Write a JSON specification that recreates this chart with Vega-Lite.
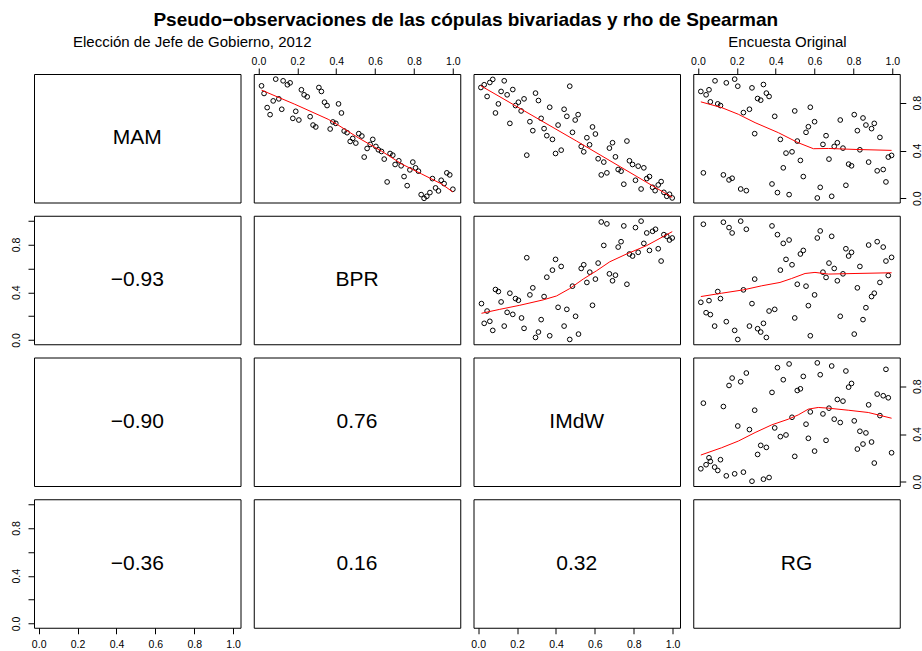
{
"$schema": "https://vega.github.io/schema/vega-lite/v6.json",
"padding": {"left": 10, "top": 10, "right": 0, "bottom": 0},
"autosize": {"type": "pad"},
"background": "white",
"config": {
 "view": {"stroke": "black", "strokeWidth": 1},
 "axis": {"domain": false, "grid": false, "ticks": true, "tickSize": 6, "tickColor": "black", "tickWidth": 1, "labelColor": "black", "labelFont": "Liberation Sans", "labelFontSize": 10.5, "labelFlush": false, "labelOverlap": false, "labelBound": false},
 "text": {"font": "Liberation Sans"}
},
"datasets": {
 "pts": [
  {"p":"12","x":0.016,"y":0.941},{"p":"12","x":0.029,"y":0.877},{"p":"12","x":0.089,"y":0.997},{"p":"12","x":0.127,"y":0.983},{"p":"12","x":0.149,"y":0.950},{"p":"12","x":0.163,"y":0.966},{"p":"12","x":0.045,"y":0.759},{"p":"12","x":0.060,"y":0.700},{"p":"12","x":0.076,"y":0.815},{"p":"12","x":0.105,"y":0.832},{"p":"12","x":0.120,"y":0.745},{"p":"12","x":0.177,"y":0.669},{"p":"12","x":0.192,"y":0.728},{"p":"12","x":0.208,"y":0.655},{"p":"12","x":0.221,"y":0.908},{"p":"12","x":0.235,"y":0.866},{"p":"12","x":0.251,"y":0.849},{"p":"12","x":0.266,"y":0.683},{"p":"12","x":0.281,"y":0.613},{"p":"12","x":0.295,"y":0.597},{"p":"12","x":0.311,"y":0.927},{"p":"12","x":0.324,"y":0.894},{"p":"12","x":0.340,"y":0.804},{"p":"12","x":0.353,"y":0.776},{"p":"12","x":0.369,"y":0.580},{"p":"12","x":0.383,"y":0.639},{"p":"12","x":0.398,"y":0.627},{"p":"12","x":0.412,"y":0.790},{"p":"12","x":0.427,"y":0.714},{"p":"12","x":0.441,"y":0.563},{"p":"12","x":0.456,"y":0.549},{"p":"12","x":0.472,"y":0.476},{"p":"12","x":0.485,"y":0.501},{"p":"12","x":0.501,"y":0.462},{"p":"12","x":0.516,"y":0.541},{"p":"12","x":0.532,"y":0.521},{"p":"12","x":0.544,"y":0.345},{"p":"12","x":0.559,"y":0.417},{"p":"12","x":0.575,"y":0.451},{"p":"12","x":0.588,"y":0.493},{"p":"12","x":0.604,"y":0.434},{"p":"12","x":0.617,"y":0.406},{"p":"12","x":0.633,"y":0.392},{"p":"12","x":0.647,"y":0.328},{"p":"12","x":0.662,"y":0.137},{"p":"12","x":0.677,"y":0.375},{"p":"12","x":0.691,"y":0.361},{"p":"12","x":0.703,"y":0.283},{"p":"12","x":0.722,"y":0.314},{"p":"12","x":0.734,"y":0.272},{"p":"12","x":0.749,"y":0.182},{"p":"12","x":0.765,"y":0.106},{"p":"12","x":0.779,"y":0.238},{"p":"12","x":0.794,"y":0.303},{"p":"12","x":0.808,"y":0.255},{"p":"12","x":0.823,"y":0.227},{"p":"12","x":0.837,"y":0.031},{"p":"12","x":0.852,"y":0.000},{"p":"12","x":0.866,"y":0.017},{"p":"12","x":0.882,"y":0.048},{"p":"12","x":0.895,"y":0.165},{"p":"12","x":0.911,"y":0.087},{"p":"12","x":0.926,"y":0.062},{"p":"12","x":0.940,"y":0.151},{"p":"12","x":0.955,"y":0.123},{"p":"12","x":0.969,"y":0.213},{"p":"12","x":0.984,"y":0.196},{"p":"12","x":1.000,"y":0.076},
  {"p":"13","x":0.014,"y":0.927},{"p":"13","x":0.031,"y":0.950},{"p":"13","x":0.046,"y":0.852},{"p":"13","x":0.060,"y":0.969},{"p":"13","x":0.075,"y":0.995},{"p":"13","x":0.089,"y":0.714},{"p":"13","x":0.104,"y":0.790},{"p":"13","x":0.118,"y":0.894},{"p":"13","x":0.134,"y":0.983},{"p":"13","x":0.149,"y":0.866},{"p":"13","x":0.163,"y":0.627},{"p":"13","x":0.178,"y":0.910},{"p":"13","x":0.192,"y":0.776},{"p":"13","x":0.207,"y":0.804},{"p":"13","x":0.221,"y":0.731},{"p":"13","x":0.236,"y":0.832},{"p":"13","x":0.250,"y":0.361},{"p":"13","x":0.266,"y":0.641},{"p":"13","x":0.281,"y":0.566},{"p":"13","x":0.295,"y":0.880},{"p":"13","x":0.310,"y":0.818},{"p":"13","x":0.324,"y":0.669},{"p":"13","x":0.339,"y":0.583},{"p":"13","x":0.353,"y":0.524},{"p":"13","x":0.368,"y":0.762},{"p":"13","x":0.382,"y":0.493},{"p":"13","x":0.398,"y":0.375},{"p":"13","x":0.411,"y":0.613},{"p":"13","x":0.427,"y":0.403},{"p":"13","x":0.442,"y":0.745},{"p":"13","x":0.456,"y":0.686},{"p":"13","x":0.471,"y":0.938},{"p":"13","x":0.485,"y":0.552},{"p":"13","x":0.499,"y":0.655},{"p":"13","x":0.514,"y":0.700},{"p":"13","x":0.530,"y":0.434},{"p":"13","x":0.543,"y":0.389},{"p":"13","x":0.559,"y":0.507},{"p":"13","x":0.573,"y":0.448},{"p":"13","x":0.588,"y":0.597},{"p":"13","x":0.603,"y":0.538},{"p":"13","x":0.617,"y":0.331},{"p":"13","x":0.633,"y":0.196},{"p":"13","x":0.646,"y":0.303},{"p":"13","x":0.662,"y":0.213},{"p":"13","x":0.675,"y":0.420},{"p":"13","x":0.691,"y":0.465},{"p":"13","x":0.706,"y":0.347},{"p":"13","x":0.720,"y":0.241},{"p":"13","x":0.735,"y":0.227},{"p":"13","x":0.749,"y":0.118},{"p":"13","x":0.765,"y":0.479},{"p":"13","x":0.778,"y":0.314},{"p":"13","x":0.794,"y":0.283},{"p":"13","x":0.809,"y":0.151},{"p":"13","x":0.823,"y":0.269},{"p":"13","x":0.838,"y":0.078},{"p":"13","x":0.852,"y":0.255},{"p":"13","x":0.867,"y":0.165},{"p":"13","x":0.881,"y":0.182},{"p":"13","x":0.897,"y":0.092},{"p":"13","x":0.910,"y":0.064},{"p":"13","x":0.926,"y":0.112},{"p":"13","x":0.941,"y":0.140},{"p":"13","x":0.955,"y":0.050},{"p":"13","x":0.970,"y":0.017},{"p":"13","x":0.984,"y":0.034},{"p":"13","x":0.998,"y":0.003},
  {"p":"14","x":0.015,"y":0.894},{"p":"14","x":0.028,"y":0.213},{"p":"14","x":0.042,"y":0.866},{"p":"14","x":0.057,"y":0.908},{"p":"14","x":0.064,"y":0.807},{"p":"14","x":0.088,"y":0.983},{"p":"14","x":0.102,"y":0.790},{"p":"14","x":0.116,"y":0.776},{"p":"14","x":0.131,"y":0.196},{"p":"14","x":0.146,"y":0.966},{"p":"14","x":0.160,"y":0.154},{"p":"14","x":0.176,"y":0.168},{"p":"14","x":0.189,"y":0.997},{"p":"14","x":0.205,"y":0.938},{"p":"14","x":0.220,"y":0.078},{"p":"14","x":0.234,"y":0.717},{"p":"14","x":0.249,"y":0.064},{"p":"14","x":0.265,"y":0.745},{"p":"14","x":0.278,"y":0.924},{"p":"14","x":0.292,"y":0.541},{"p":"14","x":0.307,"y":0.835},{"p":"14","x":0.323,"y":0.821},{"p":"14","x":0.337,"y":0.952},{"p":"14","x":0.352,"y":0.880},{"p":"14","x":0.366,"y":0.852},{"p":"14","x":0.381,"y":0.120},{"p":"14","x":0.395,"y":0.686},{"p":"14","x":0.409,"y":0.048},{"p":"14","x":0.424,"y":0.493},{"p":"14","x":0.439,"y":0.255},{"p":"14","x":0.453,"y":0.378},{"p":"14","x":0.469,"y":0.031},{"p":"14","x":0.484,"y":0.389},{"p":"14","x":0.498,"y":0.731},{"p":"14","x":0.511,"y":0.479},{"p":"14","x":0.527,"y":0.317},{"p":"14","x":0.542,"y":0.182},{"p":"14","x":0.556,"y":0.552},{"p":"14","x":0.568,"y":0.599},{"p":"14","x":0.578,"y":0.762},{"p":"14","x":0.600,"y":0.641},{"p":"14","x":0.614,"y":0.003},{"p":"14","x":0.629,"y":0.092},{"p":"14","x":0.643,"y":0.451},{"p":"14","x":0.659,"y":0.524},{"p":"14","x":0.674,"y":0.328},{"p":"14","x":0.688,"y":0.017},{"p":"14","x":0.701,"y":0.434},{"p":"14","x":0.717,"y":0.465},{"p":"14","x":0.732,"y":0.655},{"p":"14","x":0.746,"y":0.420},{"p":"14","x":0.761,"y":0.109},{"p":"14","x":0.775,"y":0.286},{"p":"14","x":0.790,"y":0.272},{"p":"14","x":0.804,"y":0.700},{"p":"14","x":0.820,"y":0.566},{"p":"14","x":0.833,"y":0.406},{"p":"14","x":0.849,"y":0.672},{"p":"14","x":0.864,"y":0.613},{"p":"14","x":0.878,"y":0.303},{"p":"14","x":0.893,"y":0.583},{"p":"14","x":0.907,"y":0.627},{"p":"14","x":0.922,"y":0.230},{"p":"14","x":0.936,"y":0.510},{"p":"14","x":0.953,"y":0.241},{"p":"14","x":0.967,"y":0.137},{"p":"14","x":0.979,"y":0.345},{"p":"14","x":0.996,"y":0.359},
  {"p":"23","x":0.017,"y":0.305},{"p":"23","x":0.031,"y":0.140},{"p":"23","x":0.046,"y":0.243},{"p":"23","x":0.060,"y":0.157},{"p":"23","x":0.075,"y":0.081},{"p":"23","x":0.089,"y":0.423},{"p":"23","x":0.104,"y":0.406},{"p":"23","x":0.118,"y":0.319},{"p":"23","x":0.134,"y":0.117},{"p":"23","x":0.149,"y":0.232},{"p":"23","x":0.163,"y":0.392},{"p":"23","x":0.178,"y":0.215},{"p":"23","x":0.192,"y":0.347},{"p":"23","x":0.207,"y":0.333},{"p":"23","x":0.223,"y":0.185},{"p":"23","x":0.236,"y":0.098},{"p":"23","x":0.250,"y":0.689},{"p":"23","x":0.266,"y":0.378},{"p":"23","x":0.281,"y":0.437},{"p":"23","x":0.295,"y":0.022},{"p":"23","x":0.310,"y":0.067},{"p":"23","x":0.324,"y":0.171},{"p":"23","x":0.339,"y":0.364},{"p":"23","x":0.353,"y":0.526},{"p":"23","x":0.368,"y":0.036},{"p":"23","x":0.382,"y":0.585},{"p":"23","x":0.398,"y":0.675},{"p":"23","x":0.411,"y":0.274},{"p":"23","x":0.427,"y":0.616},{"p":"23","x":0.442,"y":0.117},{"p":"23","x":0.456,"y":0.257},{"p":"23","x":0.471,"y":0.005},{"p":"23","x":0.485,"y":0.451},{"p":"23","x":0.501,"y":0.199},{"p":"23","x":0.516,"y":0.050},{"p":"23","x":0.530,"y":0.599},{"p":"23","x":0.543,"y":0.630},{"p":"23","x":0.559,"y":0.482},{"p":"23","x":0.574,"y":0.568},{"p":"23","x":0.588,"y":0.291},{"p":"23","x":0.603,"y":0.510},{"p":"23","x":0.617,"y":0.644},{"p":"23","x":0.633,"y":0.988},{"p":"23","x":0.646,"y":0.792},{"p":"23","x":0.662,"y":0.972},{"p":"23","x":0.675,"y":0.554},{"p":"23","x":0.691,"y":0.496},{"p":"23","x":0.706,"y":0.543},{"p":"23","x":0.720,"y":0.778},{"p":"23","x":0.735,"y":0.823},{"p":"23","x":0.749,"y":0.955},{"p":"23","x":0.765,"y":0.467},{"p":"23","x":0.778,"y":0.720},{"p":"23","x":0.794,"y":0.703},{"p":"23","x":0.809,"y":0.941},{"p":"23","x":0.823,"y":0.734},{"p":"23","x":0.838,"y":0.995},{"p":"23","x":0.852,"y":0.809},{"p":"23","x":0.867,"y":0.896},{"p":"23","x":0.881,"y":0.750},{"p":"23","x":0.897,"y":0.910},{"p":"23","x":0.912,"y":0.927},{"p":"23","x":0.926,"y":0.764},{"p":"23","x":0.941,"y":0.661},{"p":"23","x":0.955,"y":0.882},{"p":"23","x":0.970,"y":0.868},{"p":"23","x":0.984,"y":0.837},{"p":"23","x":0.998,"y":0.854},
  {"p":"24","x":0.015,"y":0.316},{"p":"24","x":0.028,"y":0.969},{"p":"24","x":0.042,"y":0.229},{"p":"24","x":0.057,"y":0.330},{"p":"24","x":0.064,"y":0.213},{"p":"24","x":0.086,"y":0.117},{"p":"24","x":0.102,"y":0.406},{"p":"24","x":0.116,"y":0.347},{"p":"24","x":0.131,"y":0.986},{"p":"24","x":0.146,"y":0.154},{"p":"24","x":0.160,"y":0.941},{"p":"24","x":0.176,"y":0.896},{"p":"24","x":0.189,"y":0.081},{"p":"24","x":0.205,"y":0.005},{"p":"24","x":0.220,"y":0.995},{"p":"24","x":0.234,"y":0.420},{"p":"24","x":0.249,"y":0.927},{"p":"24","x":0.265,"y":0.117},{"p":"24","x":0.278,"y":0.305},{"p":"24","x":0.292,"y":0.510},{"p":"24","x":0.307,"y":0.095},{"p":"24","x":0.323,"y":0.067},{"p":"24","x":0.337,"y":0.140},{"p":"24","x":0.352,"y":0.022},{"p":"24","x":0.366,"y":0.243},{"p":"24","x":0.381,"y":0.955},{"p":"24","x":0.395,"y":0.257},{"p":"24","x":0.409,"y":0.882},{"p":"24","x":0.424,"y":0.585},{"p":"24","x":0.439,"y":0.809},{"p":"24","x":0.453,"y":0.675},{"p":"24","x":0.469,"y":0.837},{"p":"24","x":0.484,"y":0.630},{"p":"24","x":0.498,"y":0.185},{"p":"24","x":0.511,"y":0.467},{"p":"24","x":0.527,"y":0.720},{"p":"24","x":0.542,"y":0.750},{"p":"24","x":0.556,"y":0.451},{"p":"24","x":0.568,"y":0.288},{"p":"24","x":0.578,"y":0.036},{"p":"24","x":0.600,"y":0.378},{"p":"24","x":0.614,"y":0.854},{"p":"24","x":0.629,"y":0.913},{"p":"24","x":0.643,"y":0.568},{"p":"24","x":0.659,"y":0.524},{"p":"24","x":0.674,"y":0.644},{"p":"24","x":0.688,"y":0.868},{"p":"24","x":0.701,"y":0.599},{"p":"24","x":0.717,"y":0.496},{"p":"24","x":0.732,"y":0.199},{"p":"24","x":0.746,"y":0.554},{"p":"24","x":0.761,"y":0.764},{"p":"24","x":0.775,"y":0.703},{"p":"24","x":0.790,"y":0.734},{"p":"24","x":0.804,"y":0.050},{"p":"24","x":0.820,"y":0.437},{"p":"24","x":0.833,"y":0.616},{"p":"24","x":0.849,"y":0.171},{"p":"24","x":0.864,"y":0.271},{"p":"24","x":0.878,"y":0.795},{"p":"24","x":0.893,"y":0.364},{"p":"24","x":0.907,"y":0.392},{"p":"24","x":0.922,"y":0.823},{"p":"24","x":0.936,"y":0.482},{"p":"24","x":0.953,"y":0.778},{"p":"24","x":0.967,"y":0.661},{"p":"24","x":0.979,"y":0.540},{"p":"24","x":0.996,"y":0.692},
  {"p":"34","x":0.015,"y":0.109},{"p":"34","x":0.028,"y":0.658},{"p":"34","x":0.042,"y":0.143},{"p":"34","x":0.057,"y":0.201},{"p":"34","x":0.064,"y":0.171},{"p":"34","x":0.086,"y":0.123},{"p":"34","x":0.102,"y":0.095},{"p":"34","x":0.116,"y":0.185},{"p":"34","x":0.131,"y":0.630},{"p":"34","x":0.146,"y":0.050},{"p":"34","x":0.160,"y":0.806},{"p":"34","x":0.176,"y":0.868},{"p":"34","x":0.189,"y":0.067},{"p":"34","x":0.205,"y":0.467},{"p":"34","x":0.220,"y":0.837},{"p":"34","x":0.234,"y":0.081},{"p":"34","x":0.249,"y":0.910},{"p":"34","x":0.265,"y":0.437},{"p":"34","x":0.278,"y":0.005},{"p":"34","x":0.292,"y":0.599},{"p":"34","x":0.307,"y":0.229},{"p":"34","x":0.323,"y":0.305},{"p":"34","x":0.337,"y":0.022},{"p":"34","x":0.352,"y":0.288},{"p":"34","x":0.366,"y":0.036},{"p":"34","x":0.381,"y":0.748},{"p":"34","x":0.395,"y":0.451},{"p":"34","x":0.409,"y":0.955},{"p":"34","x":0.424,"y":0.378},{"p":"34","x":0.439,"y":0.854},{"p":"34","x":0.453,"y":0.392},{"p":"34","x":0.469,"y":0.986},{"p":"34","x":0.484,"y":0.540},{"p":"34","x":0.498,"y":0.213},{"p":"34","x":0.511,"y":0.764},{"p":"34","x":0.527,"y":0.778},{"p":"34","x":0.542,"y":0.882},{"p":"34","x":0.556,"y":0.482},{"p":"34","x":0.568,"y":0.364},{"p":"34","x":0.578,"y":0.585},{"p":"34","x":0.600,"y":0.257},{"p":"34","x":0.614,"y":0.995},{"p":"34","x":0.629,"y":0.896},{"p":"34","x":0.643,"y":0.568},{"p":"34","x":0.659,"y":0.347},{"p":"34","x":0.674,"y":0.616},{"p":"34","x":0.688,"y":0.969},{"p":"34","x":0.701,"y":0.524},{"p":"34","x":0.717,"y":0.689},{"p":"34","x":0.732,"y":0.496},{"p":"34","x":0.746,"y":0.675},{"p":"34","x":0.761,"y":0.927},{"p":"34","x":0.775,"y":0.792},{"p":"34","x":0.790,"y":0.823},{"p":"34","x":0.804,"y":0.510},{"p":"34","x":0.820,"y":0.274},{"p":"34","x":0.833,"y":0.423},{"p":"34","x":0.849,"y":0.316},{"p":"34","x":0.864,"y":0.409},{"p":"34","x":0.878,"y":0.644},{"p":"34","x":0.893,"y":0.333},{"p":"34","x":0.907,"y":0.157},{"p":"34","x":0.922,"y":0.734},{"p":"34","x":0.936,"y":0.554},{"p":"34","x":0.953,"y":0.720},{"p":"34","x":0.967,"y":0.941},{"p":"34","x":0.979,"y":0.703},{"p":"34","x":0.996,"y":0.243}
 ],
 "lo": [
  {"p":"12","x":0.016,"y":0.905},{"p":"12","x":0.187,"y":0.787},{"p":"12","x":0.359,"y":0.661},{"p":"12","x":0.410,"y":0.613},{"p":"12","x":0.513,"y":0.507},{"p":"12","x":0.633,"y":0.395},{"p":"12","x":0.736,"y":0.288},{"p":"12","x":0.839,"y":0.204},{"p":"12","x":0.942,"y":0.120},{"p":"12","x":1.000,"y":0.053},
  {"p":"13","x":0.014,"y":0.941},{"p":"13","x":0.506,"y":0.479},{"p":"13","x":0.998,"y":0.008},
  {"p":"14","x":0.015,"y":0.807},{"p":"14","x":0.122,"y":0.759},{"p":"14","x":0.208,"y":0.703},{"p":"14","x":0.294,"y":0.633},{"p":"14","x":0.414,"y":0.549},{"p":"14","x":0.516,"y":0.465},{"p":"14","x":0.594,"y":0.415},{"p":"14","x":0.671,"y":0.417},{"p":"14","x":0.808,"y":0.409},{"p":"14","x":0.996,"y":0.401},
  {"p":"23","x":0.017,"y":0.224},{"p":"23","x":0.111,"y":0.257},{"p":"23","x":0.214,"y":0.291},{"p":"23","x":0.334,"y":0.336},{"p":"23","x":0.403,"y":0.369},{"p":"23","x":0.471,"y":0.431},{"p":"23","x":0.540,"y":0.510},{"p":"23","x":0.609,"y":0.580},{"p":"23","x":0.677,"y":0.655},{"p":"23","x":0.763,"y":0.720},{"p":"23","x":0.866,"y":0.790},{"p":"23","x":0.998,"y":0.907},
  {"p":"24","x":0.015,"y":0.364},{"p":"24","x":0.122,"y":0.392},{"p":"24","x":0.234,"y":0.420},{"p":"24","x":0.328,"y":0.454},{"p":"24","x":0.422,"y":0.482},{"p":"24","x":0.482,"y":0.515},{"p":"24","x":0.551,"y":0.557},{"p":"24","x":0.602,"y":0.566},{"p":"24","x":0.671,"y":0.552},{"p":"24","x":0.808,"y":0.557},{"p":"24","x":0.996,"y":0.563},
  {"p":"34","x":0.015,"y":0.224},{"p":"34","x":0.122,"y":0.285},{"p":"34","x":0.208,"y":0.341},{"p":"34","x":0.294,"y":0.412},{"p":"34","x":0.379,"y":0.476},{"p":"34","x":0.465,"y":0.524},{"p":"34","x":0.516,"y":0.560},{"p":"34","x":0.568,"y":0.608},{"p":"34","x":0.619,"y":0.622},{"p":"34","x":0.671,"y":0.616},{"p":"34","x":0.773,"y":0.599},{"p":"34","x":0.876,"y":0.580},{"p":"34","x":0.996,"y":0.532}
 ]
},
"concat": [
 {"width": 206.5, "height": 128.5,
  "title": {"text": "Elección de Jefe de Gobierno, 2012", "anchor": "start", "dx": 39, "offset": 24, "fontSize": 15, "fontWeight": "normal", "font": "Liberation Sans", "color": "black"},
  "layer": [
   {"data": {"name": "lo"}, "transform": [{"filter": "datum.p=='12'"}], "mark": {"type": "point", "opacity": 0},
    "encoding": {"x": {"field": "x", "type": "quantitative", "scale": {"domain": [-0.024, 1.038], "nice": false, "zero": false}, "axis": null}, "y": {"field": "y", "type": "quantitative", "scale": {"domain": [-0.035, 1.04], "nice": false, "zero": false}, "axis": null}}},
   {"data": {"values": [{"t": "MAM"}]}, "mark": {"type": "text", "fontSize": 21, "color": "black"}, "encoding": {"text": {"field": "t"}}}
  ]},
 {"width": 206.5, "height": 128.5,
  "layer": [
   {"data": {"name": "pts"}, "transform": [{"filter": "datum.p=='12'"}],
    "mark": {"type": "point", "shape": "circle", "filled": false, "color": "black", "opacity": 1, "size": 22, "strokeWidth": 1},
    "encoding": {"x": {"field": "x", "type": "quantitative", "scale": {"domain": [-0.024, 1.038], "nice": false, "zero": false}, "axis": {"orient": "top", "values": [0, 0.2, 0.4, 0.6, 0.8, 1], "format": ".1f", "labelPadding": 2, "title": null}},
                 "y": {"field": "y", "type": "quantitative", "scale": {"domain": [-0.035, 1.04], "nice": false, "zero": false}, "axis": null}}},
   {"data": {"name": "lo"}, "transform": [{"filter": "datum.p=='12'"}],
    "mark": {"type": "line", "color": "red", "strokeWidth": 1},
    "encoding": {"x": {"field": "x", "type": "quantitative"}, "y": {"field": "y", "type": "quantitative"}}}
  ]},
 {"width": 206.5, "height": 128.5,
  "title": {"text": "Pseudo−observaciones de las cópulas bivariadas y rho de Spearman", "anchor": "middle", "dx": -111, "offset": 44, "fontSize": 19, "fontWeight": "bold", "font": "Liberation Sans", "color": "black"},
  "layer": [
   {"data": {"name": "pts"}, "transform": [{"filter": "datum.p=='13'"}],
    "mark": {"type": "point", "shape": "circle", "filled": false, "color": "black", "opacity": 1, "size": 22, "strokeWidth": 1},
    "encoding": {"x": {"field": "x", "type": "quantitative", "scale": {"domain": [-0.024, 1.038], "nice": false, "zero": false}, "axis": null},
                 "y": {"field": "y", "type": "quantitative", "scale": {"domain": [-0.035, 1.04], "nice": false, "zero": false}, "axis": null}}},
   {"data": {"name": "lo"}, "transform": [{"filter": "datum.p=='13'"}],
    "mark": {"type": "line", "color": "red", "strokeWidth": 1},
    "encoding": {"x": {"field": "x", "type": "quantitative"}, "y": {"field": "y", "type": "quantitative"}}}
  ]},
 {"width": 206.5, "height": 128.5,
  "title": {"text": "Encuesta Original", "anchor": "middle", "dx": -9, "offset": 6, "fontSize": 15, "fontWeight": "normal", "font": "Liberation Sans", "color": "black"},
  "layer": [
   {"data": {"name": "pts"}, "transform": [{"filter": "datum.p=='14'"}],
    "mark": {"type": "point", "shape": "circle", "filled": false, "color": "black", "opacity": 1, "size": 22, "strokeWidth": 1},
    "encoding": {"x": {"field": "x", "type": "quantitative", "scale": {"domain": [-0.024, 1.038], "nice": false, "zero": false}, "axis": {"orient": "top", "values": [0, 0.2, 0.4, 0.6, 0.8, 1], "format": ".1f", "labelPadding": 2, "title": null}},
                 "y": {"field": "y", "type": "quantitative", "scale": {"domain": [-0.035, 1.04], "nice": false, "zero": false}, "axis": {"orient": "right", "values": [0, 0.2, 0.4, 0.6, 0.8, 1], "format": ".1f", "labelAngle": 270, "labelAlign": "center", "labelBaseline": "top", "labelPadding": 7, "labelExpr": "round(datum.value*10)%4==0 ? datum.label : ''", "title": null}}}},
   {"data": {"name": "lo"}, "transform": [{"filter": "datum.p=='14'"}],
    "mark": {"type": "line", "color": "red", "strokeWidth": 1},
    "encoding": {"x": {"field": "x", "type": "quantitative"}, "y": {"field": "y", "type": "quantitative"}}}
  ]},

 {"width": 206.5, "height": 128.5,
  "layer": [
   {"data": {"name": "lo"}, "transform": [{"filter": "datum.p=='12'"}], "mark": {"type": "point", "opacity": 0},
    "encoding": {"x": {"field": "x", "type": "quantitative", "scale": {"domain": [-0.024, 1.038], "nice": false, "zero": false}, "axis": null},
                 "y": {"field": "y", "type": "quantitative", "scale": {"domain": [-0.035, 1.04], "nice": false, "zero": false}, "axis": {"orient": "left", "values": [0, 0.2, 0.4, 0.6, 0.8, 1], "format": ".1f", "labelAngle": 270, "labelAlign": "center", "labelBaseline": "bottom", "labelPadding": 7, "labelExpr": "round(datum.value*10)%4==0 ? datum.label : ''", "title": null}}}},
   {"data": {"values": [{"t": "−0.93"}]}, "mark": {"type": "text", "fontSize": 21, "color": "black"}, "encoding": {"text": {"field": "t"}}}
  ]},
 {"width": 206.5, "height": 128.5,
  "layer": [
   {"data": {"name": "lo"}, "transform": [{"filter": "datum.p=='12'"}], "mark": {"type": "point", "opacity": 0},
    "encoding": {"x": {"field": "x", "type": "quantitative", "scale": {"domain": [-0.024, 1.038], "nice": false, "zero": false}, "axis": null}, "y": {"field": "y", "type": "quantitative", "scale": {"domain": [-0.035, 1.04], "nice": false, "zero": false}, "axis": null}}},
   {"data": {"values": [{"t": "BPR"}]}, "mark": {"type": "text", "fontSize": 21, "color": "black"}, "encoding": {"text": {"field": "t"}}}
  ]},
 {"width": 206.5, "height": 128.5,
  "layer": [
   {"data": {"name": "pts"}, "transform": [{"filter": "datum.p=='23'"}],
    "mark": {"type": "point", "shape": "circle", "filled": false, "color": "black", "opacity": 1, "size": 22, "strokeWidth": 1},
    "encoding": {"x": {"field": "x", "type": "quantitative", "scale": {"domain": [-0.024, 1.038], "nice": false, "zero": false}, "axis": null},
                 "y": {"field": "y", "type": "quantitative", "scale": {"domain": [-0.035, 1.04], "nice": false, "zero": false}, "axis": null}}},
   {"data": {"name": "lo"}, "transform": [{"filter": "datum.p=='23'"}],
    "mark": {"type": "line", "color": "red", "strokeWidth": 1},
    "encoding": {"x": {"field": "x", "type": "quantitative"}, "y": {"field": "y", "type": "quantitative"}}}
  ]},
 {"width": 206.5, "height": 128.5,
  "layer": [
   {"data": {"name": "pts"}, "transform": [{"filter": "datum.p=='24'"}],
    "mark": {"type": "point", "shape": "circle", "filled": false, "color": "black", "opacity": 1, "size": 22, "strokeWidth": 1},
    "encoding": {"x": {"field": "x", "type": "quantitative", "scale": {"domain": [-0.024, 1.038], "nice": false, "zero": false}, "axis": null},
                 "y": {"field": "y", "type": "quantitative", "scale": {"domain": [-0.035, 1.04], "nice": false, "zero": false}, "axis": null}}},
   {"data": {"name": "lo"}, "transform": [{"filter": "datum.p=='24'"}],
    "mark": {"type": "line", "color": "red", "strokeWidth": 1},
    "encoding": {"x": {"field": "x", "type": "quantitative"}, "y": {"field": "y", "type": "quantitative"}}}
  ]},

 {"width": 206.5, "height": 128.5,
  "layer": [
   {"data": {"name": "lo"}, "transform": [{"filter": "datum.p=='12'"}], "mark": {"type": "point", "opacity": 0},
    "encoding": {"x": {"field": "x", "type": "quantitative", "scale": {"domain": [-0.024, 1.038], "nice": false, "zero": false}, "axis": null}, "y": {"field": "y", "type": "quantitative", "scale": {"domain": [-0.035, 1.04], "nice": false, "zero": false}, "axis": null}}},
   {"data": {"values": [{"t": "−0.90"}]}, "mark": {"type": "text", "fontSize": 21, "color": "black"}, "encoding": {"text": {"field": "t"}}}
  ]},
 {"width": 206.5, "height": 128.5,
  "layer": [
   {"data": {"name": "lo"}, "transform": [{"filter": "datum.p=='12'"}], "mark": {"type": "point", "opacity": 0},
    "encoding": {"x": {"field": "x", "type": "quantitative", "scale": {"domain": [-0.024, 1.038], "nice": false, "zero": false}, "axis": null}, "y": {"field": "y", "type": "quantitative", "scale": {"domain": [-0.035, 1.04], "nice": false, "zero": false}, "axis": null}}},
   {"data": {"values": [{"t": "0.76"}]}, "mark": {"type": "text", "fontSize": 21, "color": "black"}, "encoding": {"text": {"field": "t"}}}
  ]},
 {"width": 206.5, "height": 128.5,
  "layer": [
   {"data": {"name": "lo"}, "transform": [{"filter": "datum.p=='12'"}], "mark": {"type": "point", "opacity": 0},
    "encoding": {"x": {"field": "x", "type": "quantitative", "scale": {"domain": [-0.024, 1.038], "nice": false, "zero": false}, "axis": null}, "y": {"field": "y", "type": "quantitative", "scale": {"domain": [-0.035, 1.04], "nice": false, "zero": false}, "axis": null}}},
   {"data": {"values": [{"t": "IMdW"}]}, "mark": {"type": "text", "fontSize": 21, "color": "black"}, "encoding": {"text": {"field": "t"}}}
  ]},
 {"width": 206.5, "height": 128.5,
  "layer": [
   {"data": {"name": "pts"}, "transform": [{"filter": "datum.p=='34'"}],
    "mark": {"type": "point", "shape": "circle", "filled": false, "color": "black", "opacity": 1, "size": 22, "strokeWidth": 1},
    "encoding": {"x": {"field": "x", "type": "quantitative", "scale": {"domain": [-0.024, 1.038], "nice": false, "zero": false}, "axis": null},
                 "y": {"field": "y", "type": "quantitative", "scale": {"domain": [-0.035, 1.04], "nice": false, "zero": false}, "axis": {"orient": "right", "values": [0, 0.2, 0.4, 0.6, 0.8, 1], "format": ".1f", "labelAngle": 270, "labelAlign": "center", "labelBaseline": "top", "labelPadding": 7, "labelExpr": "round(datum.value*10)%4==0 ? datum.label : ''", "title": null}}}},
   {"data": {"name": "lo"}, "transform": [{"filter": "datum.p=='34'"}],
    "mark": {"type": "line", "color": "red", "strokeWidth": 1},
    "encoding": {"x": {"field": "x", "type": "quantitative"}, "y": {"field": "y", "type": "quantitative"}}}
  ]},

 {"width": 206.5, "height": 128.5,
  "layer": [
   {"data": {"name": "lo"}, "transform": [{"filter": "datum.p=='12'"}], "mark": {"type": "point", "opacity": 0},
    "encoding": {"x": {"field": "x", "type": "quantitative", "scale": {"domain": [-0.024, 1.038], "nice": false, "zero": false}, "axis": {"orient": "bottom", "values": [0, 0.2, 0.4, 0.6, 0.8, 1], "format": ".1f", "labelPadding": 6, "title": null}},
                 "y": {"field": "y", "type": "quantitative", "scale": {"domain": [-0.035, 1.04], "nice": false, "zero": false}, "axis": {"orient": "left", "values": [0, 0.2, 0.4, 0.6, 0.8, 1], "format": ".1f", "labelAngle": 270, "labelAlign": "center", "labelBaseline": "bottom", "labelPadding": 7, "labelExpr": "round(datum.value*10)%4==0 ? datum.label : ''", "title": null}}}},
   {"data": {"values": [{"t": "−0.36"}]}, "mark": {"type": "text", "fontSize": 21, "color": "black"}, "encoding": {"text": {"field": "t"}}}
  ]},
 {"width": 206.5, "height": 128.5,
  "layer": [
   {"data": {"name": "lo"}, "transform": [{"filter": "datum.p=='12'"}], "mark": {"type": "point", "opacity": 0},
    "encoding": {"x": {"field": "x", "type": "quantitative", "scale": {"domain": [-0.024, 1.038], "nice": false, "zero": false}, "axis": null}, "y": {"field": "y", "type": "quantitative", "scale": {"domain": [-0.035, 1.04], "nice": false, "zero": false}, "axis": null}}},
   {"data": {"values": [{"t": "0.16"}]}, "mark": {"type": "text", "fontSize": 21, "color": "black"}, "encoding": {"text": {"field": "t"}}}
  ]},
 {"width": 206.5, "height": 128.5,
  "layer": [
   {"data": {"name": "lo"}, "transform": [{"filter": "datum.p=='12'"}], "mark": {"type": "point", "opacity": 0},
    "encoding": {"x": {"field": "x", "type": "quantitative", "scale": {"domain": [-0.024, 1.038], "nice": false, "zero": false}, "axis": {"orient": "bottom", "values": [0, 0.2, 0.4, 0.6, 0.8, 1], "format": ".1f", "labelPadding": 6, "title": null}},
                 "y": {"field": "y", "type": "quantitative", "scale": {"domain": [-0.035, 1.04], "nice": false, "zero": false}, "axis": null}}},
   {"data": {"values": [{"t": "0.32"}]}, "mark": {"type": "text", "fontSize": 21, "color": "black"}, "encoding": {"text": {"field": "t"}}}
  ]},
 {"width": 206.5, "height": 128.5,
  "layer": [
   {"data": {"name": "lo"}, "transform": [{"filter": "datum.p=='12'"}], "mark": {"type": "point", "opacity": 0},
    "encoding": {"x": {"field": "x", "type": "quantitative", "scale": {"domain": [-0.024, 1.038], "nice": false, "zero": false}, "axis": null}, "y": {"field": "y", "type": "quantitative", "scale": {"domain": [-0.035, 1.04], "nice": false, "zero": false}, "axis": null}}},
   {"data": {"values": [{"t": "RG"}]}, "mark": {"type": "text", "fontSize": 21, "color": "black"}, "encoding": {"text": {"field": "t"}}}
  ]}
],
"columns": 4,
"spacing": 12.75,
"bounds": "flush"
}
